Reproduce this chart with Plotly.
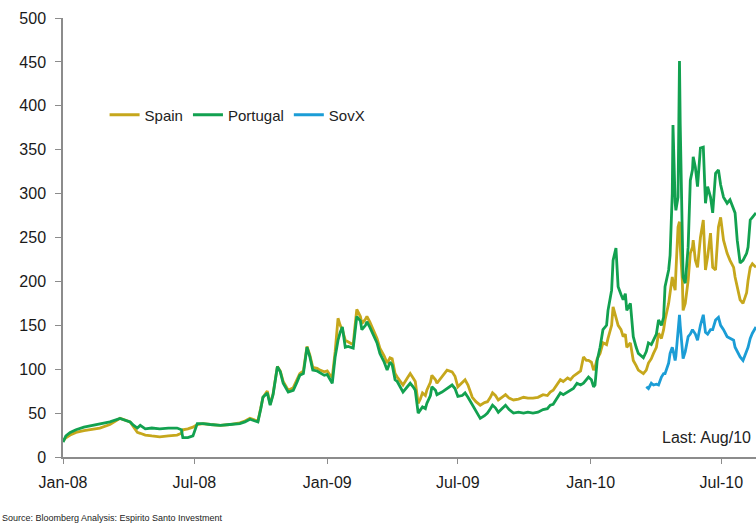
import plotly.graph_objects as go

# Sovereign 5y CDS spreads (bp), Spain and Portugal share the same sampling dates
dates = [
    # 2008
    "2008-01-01", "2008-01-05", "2008-01-11", "2008-01-19", "2008-01-30", "2008-02-12", "2008-02-21", "2008-03-06", "2008-03-20", "2008-03-27",
    "2008-04-03", "2008-04-08", "2008-04-13", "2008-04-17", "2008-04-24", "2008-05-03", "2008-05-14", "2008-05-26", "2008-06-07", "2008-06-13",
    "2008-06-15", "2008-06-22", "2008-06-29", "2008-07-05", "2008-07-13", "2008-07-23", "2008-08-06", "2008-08-19", "2008-09-02", "2008-09-09",
    "2008-09-16", "2008-09-23", "2008-09-27", "2008-10-01", "2008-10-04", "2008-10-10", "2008-10-14", "2008-10-18", "2008-10-21", "2008-10-24",
    "2008-10-28", "2008-11-01", "2008-11-08", "2008-11-15", "2008-11-20", "2008-11-24", "2008-11-29", "2008-12-01", "2008-12-04", "2008-12-08",
    "2008-12-12", "2008-12-18", "2008-12-22", "2008-12-28",
    # 2009
    "2009-01-01", "2009-01-05", "2009-01-08", "2009-01-12", "2009-01-16", "2009-01-19", "2009-01-22", "2009-01-26", "2009-01-30", "2009-02-06",
    "2009-02-08", "2009-02-11", "2009-02-16", "2009-02-18", "2009-02-23", "2009-02-25", "2009-03-01", "2009-03-06", "2009-03-11", "2009-03-15",
    "2009-03-21", "2009-03-25", "2009-03-29", "2009-04-01", "2009-04-05", "2009-04-08", "2009-04-12", "2009-04-16", "2009-04-22", "2009-04-26",
    "2009-04-30", "2009-05-03", "2009-05-07", "2009-05-10", "2009-05-13", "2009-05-17", "2009-05-19", "2009-05-24", "2009-05-26", "2009-05-31",
    "2009-06-02", "2009-06-09", "2009-06-16", "2009-06-23", "2009-06-27", "2009-07-01", "2009-07-07", "2009-07-11", "2009-07-15", "2009-07-21",
    "2009-07-26", "2009-08-01", "2009-08-07", "2009-08-11", "2009-08-15", "2009-08-18", "2009-08-22", "2009-08-26", "2009-08-31", "2009-09-05",
    "2009-09-10", "2009-09-16", "2009-09-23", "2009-09-30", "2009-10-06", "2009-10-13", "2009-10-20", "2009-10-27", "2009-11-02", "2009-11-06",
    "2009-11-10", "2009-11-16", "2009-11-20", "2009-11-24", "2009-11-30", "2009-12-04", "2009-12-08", "2009-12-13", "2009-12-18", "2009-12-22",
    "2009-12-26", "2009-12-29",
    # 2010
    "2010-01-02", "2010-01-05", "2010-01-07", "2010-01-10", "2010-01-14", "2010-01-18", "2010-01-23", "2010-01-25", "2010-01-30", "2010-02-01",
    "2010-02-05", "2010-02-08", "2010-02-12", "2010-02-15", "2010-02-18", "2010-02-20", "2010-02-25", "2010-03-01", "2010-03-05", "2010-03-08",
    "2010-03-15", "2010-03-19", "2010-03-22", "2010-03-26", "2010-03-29", "2010-04-02", "2010-04-05", "2010-04-09", "2010-04-12", "2010-04-14",
    "2010-04-19", "2010-04-21", "2010-04-24", "2010-04-25", "2010-04-28", "2010-04-29", "2010-05-02", "2010-05-04", "2010-05-05", "2010-05-08",
    "2010-05-09", "2010-05-12", "2010-05-16", "2010-05-19", "2010-05-22", "2010-05-23", "2010-05-26", "2010-05-29", "2010-06-02", "2010-06-06",
    "2010-06-09", "2010-06-12", "2010-06-16", "2010-06-19", "2010-06-23", "2010-06-27", "2010-06-30", "2010-07-04", "2010-07-09", "2010-07-13",
    "2010-07-18", "2010-07-20", "2010-07-23", "2010-07-27", "2010-07-31", "2010-08-05", "2010-08-07", "2010-08-10", "2010-08-13", "2010-08-18",
]

portugal = [
    # 2008
    17, 24, 28, 31, 34, 36, 37, 40, 44, 42,
    40, 36, 33, 36, 32, 33, 32, 33, 33, 31,
    22, 22, 24, 38, 38, 37, 36, 37, 38, 40,
    43, 41, 40, 55, 68, 73, 59, 71, 85, 103,
    97, 84, 74, 76, 85, 93, 95, 110, 125, 114,
    99, 98, 96, 93,
    # 2009
    94, 88, 84, 114, 133, 142, 148, 125, 126, 124,
    140, 160, 155, 145, 150, 154, 148, 139, 130, 118,
    108, 99, 108, 105, 88, 86, 80, 74, 80, 84,
    80, 76, 50, 54, 57, 55, 61, 70, 80, 76,
    71, 74, 78, 82, 78, 69, 70, 73, 68, 59,
    52, 44, 47, 50, 55, 59, 56, 51, 55, 59,
    54, 50, 51, 50, 51, 50, 51, 54, 55, 59,
    60, 68, 73, 71, 74, 76, 78, 84, 82, 84,
    88, 91,
    # 2010
    88, 80, 82, 110, 125, 145, 150, 167, 190, 224,
    238, 194, 185, 179, 186, 167, 175, 137, 125, 118,
    113, 120, 130, 128, 133, 140, 156, 150, 159, 194,
    213, 230, 300, 378, 290, 281, 296, 451, 380, 270,
    205, 198, 239, 315, 327, 342, 330, 308, 352, 353,
    289, 308, 296, 278, 323, 327, 310, 296, 289, 293,
    281, 278, 247, 221, 224, 232, 239, 270, 273, 278,
]

spain = [
    # 2008
    18, 22, 25, 28, 30, 32, 33, 37, 44, 42,
    40, 34, 28, 27, 25, 24, 23, 24, 25, 27,
    31, 32, 34, 37, 38, 37, 36, 37, 39, 41,
    44, 42, 41, 56, 68, 75, 60, 72, 86, 103,
    98, 86, 76, 79, 88, 95, 98, 112, 126, 116,
    102, 101, 99, 97,
    # 2009
    98, 93, 91, 120, 158, 150, 145, 133, 131, 128,
    145, 168, 160, 152, 157, 160, 154, 145, 135, 124,
    115, 107, 113, 112, 95, 91, 86, 82, 90, 95,
    90, 86, 61, 66, 73, 70, 76, 85, 93, 88,
    84, 92, 99, 97, 92, 80, 85, 88, 82, 68,
    63, 59, 62, 63, 68, 73, 70, 65, 68, 71,
    67, 65, 66, 68, 67, 67, 68, 71, 70, 74,
    76, 84, 88, 86, 90, 88, 92, 95, 98, 114,
    110, 110,
    # 2010
    108, 99, 102, 112, 118, 130, 128, 135, 150, 171,
    160, 150, 145, 137, 140, 125, 130, 110, 104, 99,
    95, 99, 107, 112, 118, 125, 141, 135, 145, 156,
    175, 190, 205, 200, 190, 210, 262, 268, 240, 200,
    167, 175, 201, 232, 239, 247, 224, 216, 250, 270,
    213, 228, 255, 216, 213, 262, 273, 247, 232, 224,
    216, 205, 194, 179, 175, 187, 201, 216, 220, 216,
]

# iTraxx SovX Western Europe, available from March 2010
sovx_dates = [
    "2010-03-19", "2010-03-22", "2010-03-26", "2010-03-29", "2010-04-02", "2010-04-05", "2010-04-09", "2010-04-12", "2010-04-14", "2010-04-19",
    "2010-04-21", "2010-04-24", "2010-04-25", "2010-04-28", "2010-04-29", "2010-05-02", "2010-05-04", "2010-05-05", "2010-05-08", "2010-05-09",
    "2010-05-12", "2010-05-16", "2010-05-19", "2010-05-22", "2010-05-26", "2010-05-29", "2010-06-02", "2010-06-06", "2010-06-09", "2010-06-12",
    "2010-06-16", "2010-06-19", "2010-06-23", "2010-06-27", "2010-06-30", "2010-07-04", "2010-07-09", "2010-07-13", "2010-07-18", "2010-07-20",
    "2010-07-23", "2010-07-27", "2010-07-31", "2010-08-05", "2010-08-07", "2010-08-10", "2010-08-13", "2010-08-18",
]
sovx = [
    80, 78, 84, 82, 83, 82, 91, 95, 95, 107,
    118, 125, 122, 110, 115, 140, 162, 150, 114, 112,
    120, 137, 140, 145, 140, 133, 150, 162, 142, 140,
    145, 145, 156, 159, 150, 145, 137, 135, 133, 125,
    120, 114, 110, 120, 125, 135, 141, 148,
]

assert len(dates) == len(portugal) == len(spain)
assert len(sovx_dates) == len(sovx)

SPAIN_COLOR = "#C6A71C"
PORTUGAL_COLOR = "#12A150"
SOVX_COLOR = "#1B9DD6"
AXIS_COLOR = "#8C8C8C"
FONT = "Liberation Sans, Arial, sans-serif"
LINE_W = 2.8

fig = go.Figure()
fig.add_trace(go.Scatter(x=dates, y=spain, name="Spain", mode="lines",
                         line=dict(color=SPAIN_COLOR, width=LINE_W)))
fig.add_trace(go.Scatter(x=dates, y=portugal, name="Portugal", mode="lines",
                         line=dict(color=PORTUGAL_COLOR, width=LINE_W)))
fig.add_trace(go.Scatter(x=sovx_dates, y=sovx, name="SovX", mode="lines",
                         line=dict(color=SOVX_COLOR, width=LINE_W)))

fig.update_layout(
    width=756, height=523,
    margin=dict(l=63, r=0, t=18, b=66),
    paper_bgcolor="white", plot_bgcolor="white",
    font=dict(family=FONT, color="#1a1a1a"),
    showlegend=True,
    legend=dict(orientation="h", x=0.06, y=0.779, xanchor="left", yanchor="middle",
                bgcolor="rgba(0,0,0,0)", font=dict(size=15, family=FONT, color="#222"),
                itemwidth=30, tracegroupgap=0),
    xaxis=dict(
        type="date", range=["2008-01-01", "2010-08-18"], autorange=False,
        tick0="2008-01-01", dtick="M6", tickformat="%b-%y",
        showgrid=False, zeroline=False,
        showline=True, linecolor=AXIS_COLOR, linewidth=1.5,
        ticks="outside", ticklen=5, tickcolor=AXIS_COLOR, tickwidth=1.2,
        tickfont=dict(size=16, family=FONT, color="#1a1a1a"),
        ticklabelstandoff=5,
    ),
    yaxis=dict(
        range=[0, 500], autorange=False, dtick=50, tick0=0,
        showgrid=False, zeroline=False,
        showline=True, linecolor=AXIS_COLOR, linewidth=1.5,
        ticks="outside", ticklen=6, tickcolor=AXIS_COLOR, tickwidth=1.2,
        tickfont=dict(size=16, family=FONT, color="#1a1a1a"),
        ticklabelstandoff=6,
    ),
    annotations=[
        dict(text="Last: Aug/10", xref="paper", yref="paper", x=0.995, y=(457 - 437) / 439,
             xanchor="right", yanchor="middle", showarrow=False,
             font=dict(size=16, family=FONT, color="#222")),
        dict(text="Source: Bloomberg Analysis: Espirito Santo Investment",
             xref="paper", yref="paper", x=-63 / 693, y=-(518 - 457) / 439,
             xanchor="left", yanchor="middle", showarrow=False,
             font=dict(size=9, family="Liberation Sans Narrow, Arial Narrow, Liberation Sans, Arial", color="#222")),
    ],
)

fig.write_html("out.html")
